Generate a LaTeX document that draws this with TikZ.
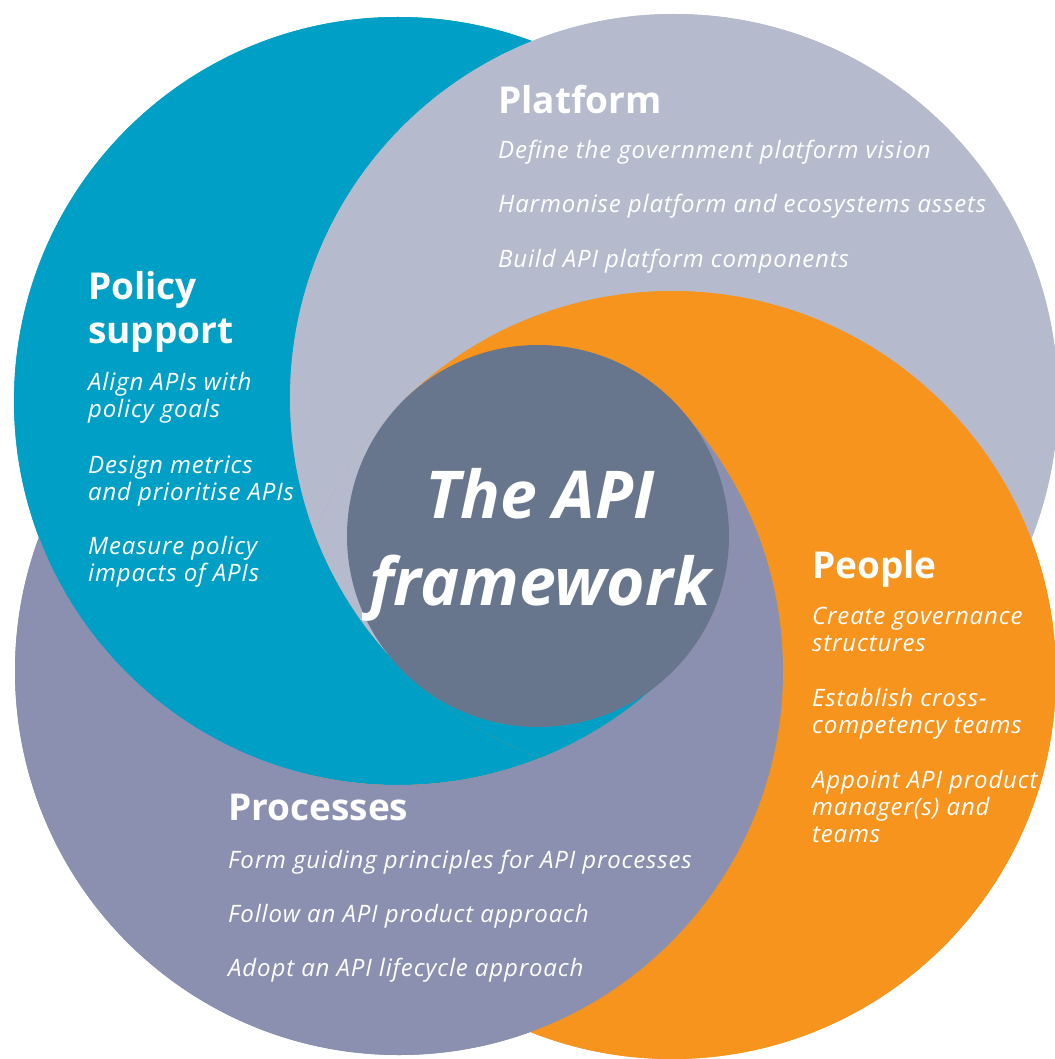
\documentclass[tikz,border=0pt]{standalone}
\usepackage{fontspec}
\setmainfont{Open Sans}
\definecolor{cteal}{HTML}{00A0C6}
\definecolor{cplat}{HTML}{B5BBCD}
\definecolor{corange}{HTML}{F7941E}
\definecolor{cproc}{HTML}{8B90B0}
\definecolor{ccore}{HTML}{67758D}
\begin{document}
\begin{tikzpicture}[x=1pt,y=-1pt,
  hd/.style={anchor=base west, inner sep=0pt, text=white, align=left,
    font=\fontsize{37}{44}\selectfont\bfseries},
  itm/.style={anchor=base west, inner sep=0pt, text=white, align=left,
    font=\fontsize{24}{27}\selectfont\itshape\addfontfeature{LetterSpace=3.5}}]
\useasboundingbox (0,0) rectangle (1054,1059);
\fill[white] (0,0) rectangle (1054,1059);
\coordinate (T) at (398,401);
\coordinate (P) at (674,398);
\coordinate (G) at (672,675);
\coordinate (S) at (399,671);
\coordinate (O) at (538,536);
\def\R{384pt}
% base layer (hides seams)
\fill[cteal] (T) circle (\R);
\fill[cplat] (P) circle (\R);
\fill[cproc] (S) circle (\R);
\fill[corange] (G) circle (\R);
% each circle shows where the next one (clockwise) does not cover it
\begin{scope}[even odd rule]
  \clip (-30,-30) rectangle (1084,1089) (P) circle (\R);
  \fill[cteal] (T) circle (\R);
\end{scope}
\begin{scope}[even odd rule]
  \clip (-30,-30) rectangle (1084,1089) (G) circle (\R);
  \fill[cplat] (P) circle (\R);
\end{scope}
\begin{scope}[even odd rule]
  \clip (-30,-30) rectangle (1084,1089) (S) circle (\R);
  \fill[corange] (G) circle (\R);
\end{scope}
\begin{scope}[even odd rule]
  \clip (-30,-30) rectangle (1084,1089) (T) circle (\R);
  \fill[cproc] (S) circle (\R);
\end{scope}
% tips of the four-fold overlap
\begin{scope}
  \clip (T) circle (\R);
  \clip (P) circle (\R);
  \clip (G) circle (\R);
  \clip (S) circle (\R);
  \fill[corange] (O) -- ++(-300,-300) -- ++(600,0) -- cycle;
  \fill[cproc] (O) -- ++(300,-300) -- ++(0,600) -- cycle;
  \fill[cteal] (O) -- ++(300,300) -- ++(-600,0) -- cycle;
  \fill[cplat] (O) -- ++(-300,300) -- ++(0,-600) -- cycle;
\end{scope}
\node[circle, fill=ccore, minimum size=382pt, inner sep=0pt] (core) at (O) {};
\node[anchor=base, inner sep=0pt, text=white, align=center,
  font=\fontsize{66}{87}\selectfont\bfseries\itshape] (title) at (540,605) {The API\\framework};
% Platform
\node[hd] (plat) at (498,114) {Platform};
\node[itm] (plat1) at (498,159) {Define the government platform vision};
\node[itm] (plat2) at (498,213) {Harmonise platform and ecosystems assets};
\node[itm] (plat3) at (498,267) {Build API platform components};
% Policy support
\node[hd] (pol) at (88,343) {Policy\\support};
\node[itm] (pol1) at (88,417) {Align APIs with\\policy goals};
\node[itm] (pol2) at (88,500) {Design metrics\\and prioritise APIs};
\node[itm] (pol3) at (88,581) {Measure policy\\impacts of APIs};
% People
\node[hd] (peo) at (812,578) {People};
\node[itm] (peo1) at (812,651) {Create governance\\structures};
\node[itm] (peo2) at (812,733) {Establish cross-\\competency teams};
\node[itm] (peo3) at (812,842) {Appoint API product\\manager(s) and\\teams};
% Processes
\node[hd] (pro) at (228,820) {Processes};
\node[itm] (pro1) at (228,868) {Form guiding principles for API processes};
\node[itm] (pro2) at (228,922) {Follow an API product approach};
\node[itm] (pro3) at (228,976) {Adopt an API lifecycle approach};
\end{tikzpicture}
\end{document}
